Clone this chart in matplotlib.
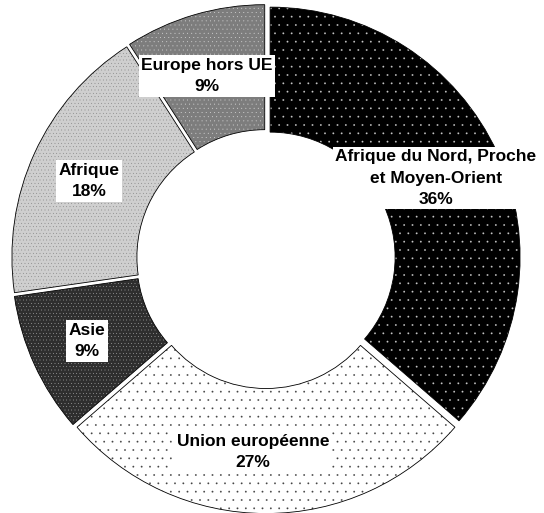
import matplotlib
matplotlib.use('Agg')
import matplotlib.pyplot as plt

plt.rcParams['font.family'] = ['Liberation Sans', 'DejaVu Sans']
plt.rcParams['hatch.linewidth'] = 0.1

# Regions in clockwise order from 12 o'clock, with their share in percent
regions = ['Afrique du Nord, Proche\net Moyen-Orient', 'Union européenne',
           'Asie', 'Afrique', 'Europe hors UE']
shares = [36, 27, 9, 18, 9]

face_colors = ['black', 'white', '#2e2e2e', '#cfcfcf', '#7d7d7d']
dot_colors = ['#c8c8c8', '#444444', '#d0d0d0', '#6a6a6a', '#e0e0e0']
hatches = ['..', '..', '.....', '.....', '....']

# label centres in figure pixels (x from left, y from top)
label_px = [(436, 178), (253, 452), (87, 341), (89, 181), (207, 76)]

W, H = 544, 513
cx, cy, R = 266, 259, 250

fig = plt.figure(figsize=(W / 100, H / 100), dpi=100)
ax = fig.add_axes([0, 0, 1, 1])

explode = [0.018] * len(shares)
wedges, _ = ax.pie(shares, startangle=90, counterclock=False, radius=1,
                   explode=explode,
                   wedgeprops=dict(width=0.5, linewidth=0))
for w, fc, dc, h in zip(wedges, face_colors, dot_colors, hatches):
    w.set_facecolor(fc)
    w.set_edgecolor(dc)
    w.set_hatch(h)

# thin black outline on top of the hatched wedges
outline, _ = ax.pie(shares, startangle=90, counterclock=False, radius=1,
                    explode=explode,
                    wedgeprops=dict(width=0.5, facecolor='none',
                                    edgecolor='black', linewidth=0.6))

ax.set_xlim(-cx / R, (W - cx) / R)
ax.set_ylim(-(H - cy) / R, cy / R)
ax.set_aspect('auto')
ax.axis('off')

for name, share, (px, py) in zip(regions, shares, label_px):
    fig.text(px / W, 1 - py / H, '{}\n{}%'.format(name, share),
             ha='center', va='center', fontsize=12.5, fontweight='bold',
             linespacing=1.5, color='black',
             bbox=dict(facecolor='white', edgecolor='none', pad=2))

fig.savefig('out.png', dpi=100)
